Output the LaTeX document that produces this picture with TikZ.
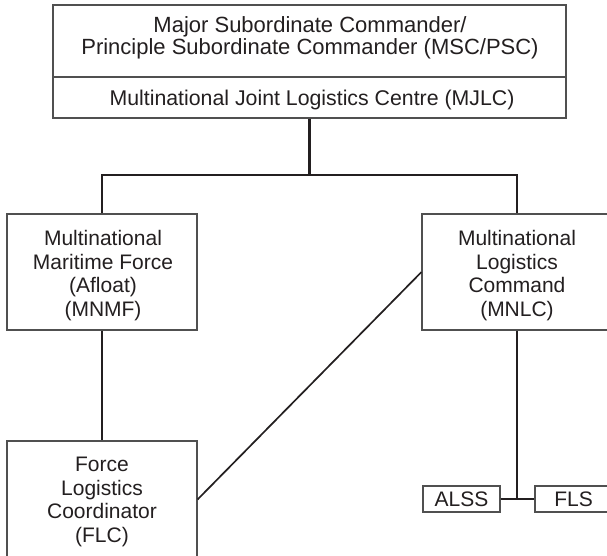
\documentclass[tikz,border=0pt]{standalone}
\usepackage{fontspec}
\setmainfont{Liberation Sans}
\definecolor{ink}{HTML}{231F20}
\definecolor{boxgray}{HTML}{505050}
\begin{document}
\begin{tikzpicture}[x=1pt,y=-1pt,
  box/.style={draw=boxgray, line width=1.1pt, rectangle, inner sep=0pt},
  lbl/.style={font=\fontsize{21}{23.5}\selectfont, text=ink, inner sep=0pt, anchor=base},
  toplbl/.style={font=\fontsize{22}{21.7}\selectfont, text=ink, inner sep=0pt, anchor=base},
  link/.style={draw=ink, line width=2.1pt}]
\useasboundingbox (0,0) rectangle (607,555);
\fill[white] (0,0) rectangle (607,555);
\clip (0,0) rectangle (607,555);
% boxes
\node[box, minimum width=513pt, minimum height=72pt] (msc) at (309.5,41) {};
\node[box, minimum width=513pt, minimum height=41pt] (mjlc) at (309.5,97.5) {};
\node[box, minimum width=190pt, minimum height=116pt] (mnmf) at (102,272) {};
\node[box, minimum width=190pt, minimum height=116pt] (mnlc) at (517,272) {};
\node[box, minimum width=190pt, minimum height=117pt] (flc) at (102,499.5) {};
\node[box, minimum width=77pt, minimum height=26pt] (alss) at (461.5,499) {};
\node[box, minimum width=77pt, minimum height=26pt] (fls) at (573.5,499) {};
% texts
\node[toplbl] (msc-t) at (310,32.3) {\begin{tabular}[t]{@{}c@{}}Major Subordinate Commander/\\Principle Subordinate Commander (MSC/PSC)\end{tabular}};
\node[lbl, font=\fontsize{21.3}{23.5}\selectfont] (mjlc-t) at (312,105) {Multinational Joint Logistics Centre (MJLC)};
\node[lbl] (mnmf-t) at (103,245.7) {\begin{tabular}[t]{@{}c@{}}Multinational\\Maritime Force\\(Afloat)\\(MNMF)\end{tabular}};
\node[lbl] (mnlc-t) at (517,245.7) {\begin{tabular}[t]{@{}c@{}}Multinational\\Logistics\\Command\\(MNLC)\end{tabular}};
\node[lbl] (flc-t) at (102,471.7) {\begin{tabular}[t]{@{}c@{}}Force\\Logistics\\Coordinator\\(FLC)\end{tabular}};
\node[lbl] (alss-t) at (461.5,506) {ALSS};
\node[lbl] (fls-t) at (573.5,506) {FLS};
% connectors
\coordinate (bar) at (mjlc.south |- 0,175);
\draw[link] (mjlc.south) -- (bar);
\draw[link] (mnmf.north) |- (bar);
\draw[link] (bar) -| (mnlc.north);
\draw[link] (mnmf.south) -- (flc.north);
\draw[link, line width=1.7pt] (flc.east) -- (mnlc.west);
\coordinate (tee) at (mnlc.south |- alss.east);
\draw[link] (mnlc.south) -- (tee);
\draw[link] (alss.east) -- (fls.west);
\end{tikzpicture}
\end{document}
